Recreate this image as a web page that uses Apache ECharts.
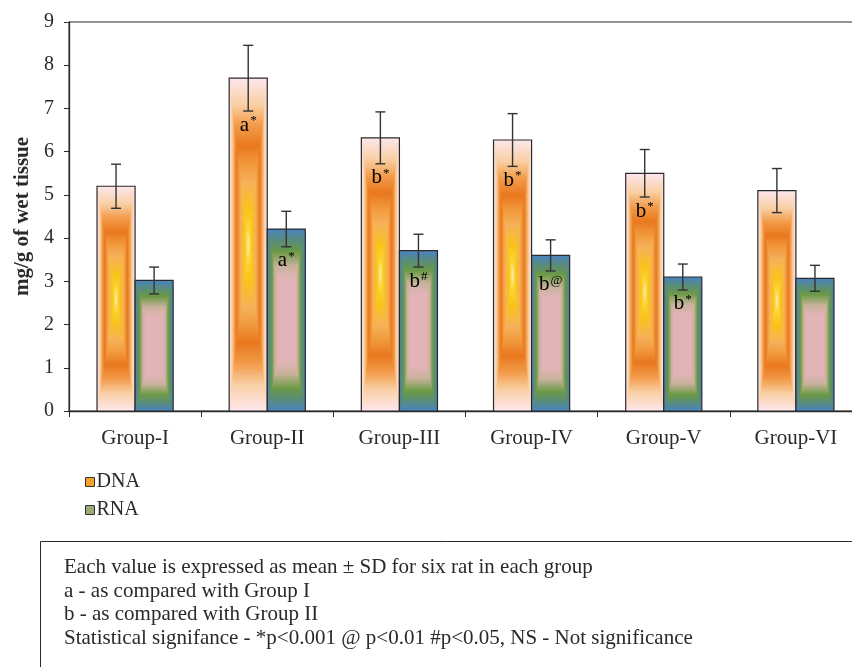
<!DOCTYPE html>
<html><head><meta charset="utf-8">
<script src="https://cdn.jsdelivr.net/npm/echarts@6/dist/echarts.min.js"></script>
<style>html,body{margin:0;padding:0;background:#fff}#c{width:852px;height:667px}</style>
</head><body><div id="c"></div>
<script>
const categories = ['Group-I', 'Group-II', 'Group-III', 'Group-IV', 'Group-V', 'Group-VI'];
const dnaMean = [5.2, 7.7, 6.32, 6.27, 5.5, 5.1];
const dnaSD = [0.51, 0.76, 0.6, 0.61, 0.55, 0.51];
const rnaMean = [3.02, 4.21, 3.71, 3.6, 3.1, 3.07];
const rnaSD = [0.31, 0.41, 0.38, 0.36, 0.3, 0.3];
const dnaMarks = ['', 'a*', 'b*', 'b*', 'b*', ''];
const rnaMarks = ['', 'a*', 'b#', 'b@', 'b*', ''];
const seriesNames = ['DNA', 'RNA'];
const yAxisTitle = 'mg/g of wet tissue';
const footnotes = [
  'Each value is expressed as mean \u00b1 SD for six rat in each group',
  'a - as compared with Group I',
  'b - as compared with Group II',
  'Statistical signifance - *p<0.001 @ p<0.01 #p<0.05, NS - Not significance'
];

const FONT = '"Liberation Serif", "DejaVu Serif", serif';
const DNA_STOPS = [[0,'#fff3c4'],[0.1,'#fcd53a'],[0.22,'#f9c31a'],[0.38,'#f6b25a'],[0.5,'#f0963a'],[0.6,'#e9781e'],[0.72,'#f29a48'],[0.85,'#f9cfa4'],[1,'#fde6ea']];
const RNA_STOPS = [[0,'#e2b4b8'],[0.45,'#e2b4b8'],[0.6,'#c9b29c'],[0.76,'#6b9a45'],[0.88,'#5a8c7a'],[1,'#4a84bd']];

function hex2rgb(h){ return [parseInt(h.slice(1,3),16), parseInt(h.slice(3,5),16), parseInt(h.slice(5,7),16)]; }
function lerpColor(stops, t){
  for (let k = 1; k < stops.length; k++) {
    if (t <= stops[k][0]) {
      const a = stops[k-1], b = stops[k];
      const f = (t - a[0]) / (b[0] - a[0] || 1);
      const ca = hex2rgb(a[1]), cb = hex2rgb(b[1]);
      return 'rgb(' + ca.map((c, j) => Math.round(c + (cb[j] - c) * f)).join(',') + ')';
    }
  }
  return stops[stops.length-1][1];
}

function barRender(stops, side, marks){
  return function(params, api){
    const i = api.value(0), v = api.value(1), sd = api.value(2);
    const base = api.coord([i, 0]), top = api.coord([i, v]);
    const band = api.size([1, 0])[0];
    const w = band * 0.288;
    const x = side < 0 ? base[0] - w : base[0];
    const y = top[1], h = base[1] - top[1];
    const cx = x + w / 2, cy = y + h / 2;
    const children = [];
    const N = 60;
    for (let k = 0; k < N; k++) {
      const t = 1 - k / N;
      children.push({type:'rect', silent:true,
        shape:{x: cx - w*t/2, y: cy - h*t/2, width: w*t, height: h*t},
        style:{fill: lerpColor(stops, t)}});
    }
    children.push({type:'rect', shape:{x:x, y:y, width:w, height:h},
      style:{fill:'none', stroke:'#2a2a2a', lineWidth:1.2}});
    const hi = api.coord([i, v + sd])[1], lo = api.coord([i, v - sd])[1];
    const cap = 5;
    const es = {stroke:'#333', lineWidth:1.4};
    children.push({type:'line', shape:{x1:cx, y1:hi, x2:cx, y2:lo}, style:es});
    children.push({type:'line', shape:{x1:cx-cap, y1:hi, x2:cx+cap, y2:hi}, style:es});
    children.push({type:'line', shape:{x1:cx-cap, y1:lo, x2:cx+cap, y2:lo}, style:es});
    const m = marks[params.dataIndex];
    if (m) {
      children.push({type:'text', style:{
        text:'{m|' + m[0] + '}{s|' + m.slice(1) + '}',
        x: cx, y: lo + 3, align:'center', verticalAlign:'top',
        rich:{
          m:{fontFamily:FONT, fontSize:21, color:'#2a2a2a', lineHeight:22},
          s:{fontFamily:FONT, fontSize:13, color:'#2a2a2a', lineHeight:22, verticalAlign:'top', padding:[0,0,6,1]}
        }}});
    }
    return {type:'group', children};
  };
}

const chart = echarts.init(document.getElementById('c'), null, {renderer:'canvas'});
chart.setOption({
  backgroundColor:'#fff',
  animation:false,
  grid:{left:69, width:793, top:22, height:389, outerBoundsMode:'none', containLabel:false,
        show:true, borderColor:'#2a2a2a', borderWidth:1, backgroundColor:'transparent'},
  legend:{
    orient:'vertical', left:80, top:467, itemWidth:9, itemHeight:9, itemGap:8,
    textStyle:{fontFamily:FONT, fontSize:20, color:'#2a2a2a', padding:[0,0,0,-3]},
    data:[
      {name:seriesNames[0], icon:'rect', itemStyle:{color:'#f3a12a', borderColor:'#333', borderWidth:1}},
      {name:seriesNames[1], icon:'rect', itemStyle:{color:'#9aaa7a', borderColor:'#333', borderWidth:1}}
    ]
  },
  xAxis:{
    type:'category', data:categories, boundaryGap:true,
    axisLine:{lineStyle:{color:'#2a2a2a', width:1.3}},
    axisTick:{show:true, length:6, inside:false, lineStyle:{color:'#2a2a2a'}},
    axisLabel:{fontFamily:FONT, fontSize:21, color:'#2a2a2a', margin:17},
    splitLine:{show:false}
  },
  yAxis:{
    type:'value', min:0, max:9, interval:1,
    name:yAxisTitle, nameLocation:'middle', nameGap:36,
    nameTextStyle:{fontFamily:FONT, fontSize:21, fontWeight:'bold', color:'#2a2a2a'},
    axisLine:{show:true, lineStyle:{color:'#2a2a2a', width:1.3}},
    axisTick:{show:true, length:5, inside:false, lineStyle:{color:'#2a2a2a'}},
    axisLabel:{fontFamily:FONT, fontSize:20, color:'#2a2a2a', margin:15},
    splitLine:{show:false}
  },
  series:[
    {name:seriesNames[0], type:'custom', itemStyle:{color:'#f3a12a'},
     renderItem:barRender(DNA_STOPS, -1, dnaMarks), encode:{x:0, y:1},
     data:dnaMean.map((v, i) => [i, v, dnaSD[i]])},
    {name:seriesNames[1], type:'custom', itemStyle:{color:'#9aaa7a'},
     renderItem:barRender(RNA_STOPS, 1, rnaMarks), encode:{x:0, y:1},
     data:rnaMean.map((v, i) => [i, v, rnaSD[i]])}
  ],
  graphic:[
    {type:'rect', left:38, top:539, shape:{width:900, height:200}, style:{fill:'none', stroke:'#2a2a2a', lineWidth:1}},
    ...footnotes.map((t, k) => ({type:'text', left:64, top:557 + k*23.7,
      style:{text:t, fontFamily:FONT, fontSize:21, fill:'#2a2a2a'}}))
  ]
});
</script></body></html>
